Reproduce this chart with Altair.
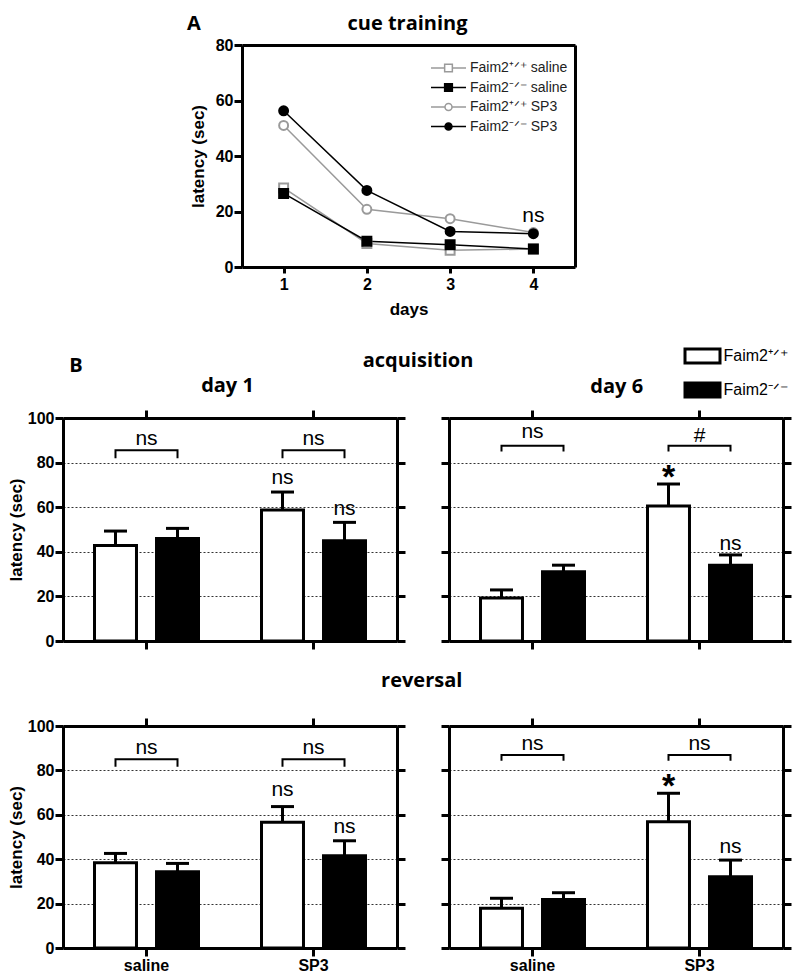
import altair as alt
import pandas as pd

GRAY = "#9a9a9a"
W, H = 784, 964  # drawing area inside the 8px page margin

# ---------------- Panel A: cue training ----------------
days = [1, 2, 3, 4]
series_a = ["Faim2⁺ᐟ⁺ saline", "Faim2⁻ᐟ⁻ saline", "Faim2⁺ᐟ⁺ SP3", "Faim2⁻ᐟ⁻ SP3"]
wt_saline = [28.5, 8.5, 6.0, 6.5]
ko_saline = [26.5, 9.3, 8.0, 6.5]
wt_sp3 = [51.0, 20.8, 17.4, 12.4]
ko_sp3 = [56.3, 27.6, 12.8, 12.0]
a_note_day = [4]
a_note_y = [16.3]
a_note_text = ["ns"]

# ---------------- Panel B ----------------
treatments = ["saline", "SP3"]
genotypes = ["Faim2⁺ᐟ⁺", "Faim2⁻ᐟ⁻"]
# order: saline WT, saline KO, SP3 WT, SP3 KO
acq1_mean = [42.8, 46.0, 58.7, 45.0]
acq1_sem = [6.5, 4.5, 8.1, 8.2]
acq6_mean = [19.3, 31.0, 60.5, 34.0]
acq6_sem = [3.6, 3.0, 9.9, 4.6]
rev1_mean = [38.4, 34.4, 56.6, 41.6]
rev1_sem = [4.2, 3.7, 7.1, 6.7]
rev6_mean = [17.9, 21.9, 56.9, 32.1]
rev6_sem = [4.5, 3.0, 12.8, 7.5]

# marks above the SP3 bars (WT, KO)
acq1_marks, acq1_marks_y = ["ns", "ns"], [70.4, 56.5]
acq6_marks, acq6_marks_y = ["*", "ns"], [68.6, 40.8]
rev1_marks, rev1_marks_y = ["ns", "ns"], [68.5, 51.7]
rev6_marks, rev6_marks_y = ["*", "ns"], [67.8, 42.6]
# bracket comparisons (saline, SP3)
acq1_cmp, acq1_cmp_y, acq1_br, acq1_leg = ["ns", "ns"], [87.9, 87.9], [85.5, 85.5], [82.0, 82.0]
acq6_cmp, acq6_cmp_y, acq6_br, acq6_leg = ["ns", "#"], [90.9, 89.4], [87.6, 87.6], [85.0, 85.0]
rev1_cmp, rev1_cmp_y, rev1_br, rev1_leg = ["ns", "ns"], [87.3, 87.3], [85.0, 85.0], [81.7, 81.7]
rev6_cmp, rev6_cmp_y, rev6_br, rev6_leg = ["ns", "ns"], [89.2, 89.2], [86.9, 86.9], [84.4, 84.4]

SQ = "M-2.5,0H-0.55M0.55,0H2.5M-0.55,-0.55H0.55V0.55H-0.55Z"
CI = "M-2.5,0H-0.5M0.5,0H2.5M-0.5,0A0.5,0.5,0,1,0,0.5,0A0.5,0.5,0,1,0,-0.5,0Z"
RECT = "M-2.5,-1H2.5V1H-2.5Z"
YT = [0, 20, 40, 60, 80, 100]


def bar_panel(x0, x1, ytop, ybot, means, sems, marks, marks_y, cmp, cmp_y, br, leg,
              ylabels, xlabels, legend):
    xs = alt.Scale(type="band", domain=treatments, range=[x0, x1], paddingInner=0, paddingOuter=0)
    xos = alt.Scale(type="band", domain=genotypes, paddingInner=0.323, paddingOuter=0.508)
    ys = alt.Scale(domain=[0, 100], range=[ybot, ytop], nice=False)
    df = pd.DataFrame({
        "treatment": [t for t in treatments for _ in genotypes],
        "genotype": genotypes * len(treatments),
        "mean": means,
        "sem": sems,
    })
    df["upper"] = df["mean"] + df["sem"]
    XN = alt.X("treatment:N", scale=xs, axis=None)
    XO = alt.XOffset("genotype:N", scale=xos)

    yaxis = alt.Axis(orient="left", offset=-x0, values=YT, labels=ylabels, tickSize=8,
                     labelPadding=1, grid=True, gridDash=[2, 2], gridColor="#333333",
                     gridWidth=1, title="latency (sec)" if ylabels else None, titlePadding=2)
    bars = alt.Chart(df).mark_bar(stroke="black", strokeWidth=3, opacity=1).encode(
        x=alt.X("treatment:N", scale=xs,
                axis=alt.Axis(orient="bottom", offset=ybot - H, labels=xlabels, title=None,
                              labelAngle=0, tickSize=8, labelPadding=1, grid=False)),
        xOffset=XO,
        y=alt.Y("mean:Q", scale=ys, axis=yaxis),
        fill=alt.Fill("genotype:N", scale=alt.Scale(domain=genotypes, range=["white", "black"]),
                      legend=legend),
    )
    err = alt.Chart(df).mark_rule(strokeWidth=3, color="black", opacity=1).encode(
        x=alt.X("treatment:N", scale=xs,
                axis=alt.Axis(orient="top", offset=-ytop, labels=False, title=None, tickSize=8,
                              grid=False)),
        xOffset=XO,
        y=alt.Y("mean:Q", scale=ys,
                axis=alt.Axis(orient="right", offset=x1 - W, values=YT, labels=False,
                              title=None, tickSize=8, grid=False)),
        y2="upper:Q",
    )
    caps = alt.Chart(df).mark_tick(thickness=3, size=23, color="black", opacity=1).encode(
        x=XN, xOffset=XO, y=alt.Y("upper:Q", scale=ys, axis=None))

    brows = []
    for i, t in enumerate(treatments):
        pts = [(genotypes[0], leg[i]), (genotypes[0], br[i]), (genotypes[1], br[i]), (genotypes[1], leg[i])]
        for k, (g, v) in enumerate(pts):
            brows.append({"treatment": t, "genotype": g, "y": v, "k": k})
    brk = alt.Chart(pd.DataFrame(brows)).mark_line(color="black", strokeWidth=2, opacity=1).encode(
        x=XN, xOffset=XO, y=alt.Y("y:Q", scale=ys, axis=None), detail="treatment:N", order="k:Q")

    mdf = pd.DataFrame({"treatment": ["SP3", "SP3"], "genotype": genotypes, "label": marks, "y": marks_y})
    ns = alt.Chart(mdf).transform_filter("datum.label != '*'").mark_text(
        font="Liberation Sans", fontSize=21, color="black", baseline="alphabetic").encode(
        x=XN, xOffset=XO, y=alt.Y("y:Q", scale=ys, axis=None), text="label:N")
    star = alt.Chart(mdf).transform_filter("datum.label == '*'").mark_text(
        font="Liberation Sans", fontSize=34, fontWeight="bold", color="black", baseline="alphabetic").encode(
        x=XN, xOffset=XO, y=alt.Y("y:Q", scale=ys, axis=None), text="label:N")
    cdf = pd.DataFrame({"treatment": treatments, "label": cmp, "y": cmp_y})
    cm = alt.Chart(cdf).mark_text(
        font="Liberation Sans", fontSize=21, color="black", baseline="alphabetic").encode(
        x=XN, y=alt.Y("y:Q", scale=ys, axis=None), text="label:N")
    return [bars, err, caps, brk, ns, star, cm]


# ---------------- Panel A layers ----------------
a_df = pd.DataFrame({
    "day": days * 4,
    "latency": wt_saline + ko_saline + wt_sp3 + ko_sp3,
    "series": [s for s in series_a for _ in days],
})
xA = alt.Scale(domain=[0.5, 4.5], range=[234, 567], nice=False, zero=False)
yA = alt.Scale(domain=[0, 80], range=[259, 37], nice=False)
fillA = alt.Scale(domain=series_a, range=["white", "black", "white", "black"])
strokeA = alt.Scale(domain=series_a, range=[GRAY, "black", GRAY, "black"])
XA = alt.X("day:Q", scale=xA, axis=None)
YA = alt.Y("latency:Q", scale=yA, axis=None)

lines = alt.Chart(a_df).mark_line(strokeWidth=1.5, opacity=1).encode(
    x=alt.X("day:Q", scale=xA,
            axis=alt.Axis(orient="bottom", offset=259 - H, values=days, format="d", title="days",
                          tickSize=6, labelPadding=3, titlePadding=9, labelFlush=False, grid=False)),
    y=alt.Y("latency:Q", scale=yA,
            axis=alt.Axis(orient="left", offset=-234, values=[0, 20, 40, 60, 80], title="latency (sec)",
                          tickSize=8, labelPadding=1, titlePadding=8, grid=False)),
    stroke=alt.Stroke("series:N", scale=strokeA, legend=None),
    detail="series:N",
)
points = alt.Chart(a_df).mark_point(size=80, strokeWidth=2, opacity=1).encode(
    x=XA, y=YA,
    shape=alt.Shape("series:N", scale=alt.Scale(domain=series_a, range=["square", "square", "circle", "circle"]),
                    legend=None),
    fill=alt.Fill("series:N", scale=fillA, legend=None),
    stroke=alt.Stroke("series:N", scale=strokeA, legend=None),
)
legA = alt.Legend(orient="none", legendX=432.5, legendY=52, title=None, symbolSize=196,
                  symbolStrokeWidth=1.5, symbolFillColor="white", symbolStrokeColor=GRAY,
                  labelFont="Liberation Sans", labelFontSize=14,
                  labelColor="#222222", labelOffset=13.5, rowPadding=4.5, padding=0)
ghost = alt.Chart(a_df).mark_point(size=196, strokeWidth=1.5, opacity=0, filled=True).encode(
    x=XA, y=YA,
    shape=alt.Shape("series:N", scale=alt.Scale(domain=series_a, range=[SQ, SQ, CI, CI]), legend=legA),
    fill=alt.Fill("series:N", scale=fillA, legend=legA),
    stroke=alt.Stroke("series:N", scale=strokeA, legend=legA),
)
noteA = alt.Chart(pd.DataFrame({"day": a_note_day, "y": a_note_y, "label": a_note_text})).mark_text(
    font="Liberation Sans", fontSize=21, color="black", baseline="alphabetic").encode(
    x=alt.X("day:Q", scale=xA, axis=alt.Axis(orient="top", offset=-37, values=days, labels=False,
                                               ticks=False, title=None, grid=False)),
    y=alt.Y("y:Q", scale=yA, axis=alt.Axis(orient="right", offset=567 - W, values=[0, 80], labels=False,
                                            ticks=False, title=None, grid=False)),
    text="label:N",
)


def label(txt, x, y, size=20):
    return alt.Chart(pd.DataFrame({"t": [txt]})).mark_text(
        font="Open Sans", fontSize=size, fontWeight="bold", color="black",
        baseline="alphabetic", align="center").encode(
        x=alt.value(x), y=alt.value(y), text="t:N")


legB = alt.Legend(orient="none", legendX=686, legendY=339.5, title=None, symbolType=RECT,
                  symbolSize=196, symbolStrokeColor="black", symbolStrokeWidth=3,
                  labelFont="Liberation Sans", labelFontSize=16, labelColor="black",
                  labelOffset=12.5, rowPadding=7, padding=0)

layers = [lines, points, ghost, noteA]
layers += bar_panel(55, 389, 410, 633, acq1_mean, acq1_sem, acq1_marks, acq1_marks_y,
                    acq1_cmp, acq1_cmp_y, acq1_br, acq1_leg, True, False, None)
layers += bar_panel(441, 775, 410, 633, acq6_mean, acq6_sem, acq6_marks, acq6_marks_y,
                    acq6_cmp, acq6_cmp_y, acq6_br, acq6_leg, False, False, legB)
layers += bar_panel(55, 389, 718, 940, rev1_mean, rev1_sem, rev1_marks, rev1_marks_y,
                    rev1_cmp, rev1_cmp_y, rev1_br, rev1_leg, True, True, None)
layers += bar_panel(441, 775, 718, 940, rev6_mean, rev6_sem, rev6_marks, rev6_marks_y,
                    rev6_cmp, rev6_cmp_y, rev6_br, rev6_leg, False, True, None)
layers += [
    label("A", 186, 22),
    label("cue training", 399.5, 22),
    label("B", 68, 363.7),
    label("acquisition", 410, 358.7),
    label("day 1", 219.5, 384),
    label("day 6", 608.7, 384.5),
    label("reversal", 413.7, 678.7),
]

chart = alt.layer(*layers).resolve_scale(
    x="independent", y="independent", xOffset="independent",
    fill="independent", stroke="independent", shape="independent",
).resolve_axis(x="independent", y="independent").properties(
    width=W, height=H, padding=0, autosize=alt.AutoSizeParams(type="none"),
).configure_view(stroke="transparent").configure_axis(
    domainColor="black", domainWidth=3, tickColor="black", tickWidth=3,
    labelFont="Liberation Sans", labelFontSize=16, labelFontWeight="bold", labelColor="black",
    titleFont="Liberation Sans", titleFontSize=17, titleFontWeight="bold", titleColor="black",
)

chart.save("out.html", embed_options={"renderer": "svg", "actions": False})
